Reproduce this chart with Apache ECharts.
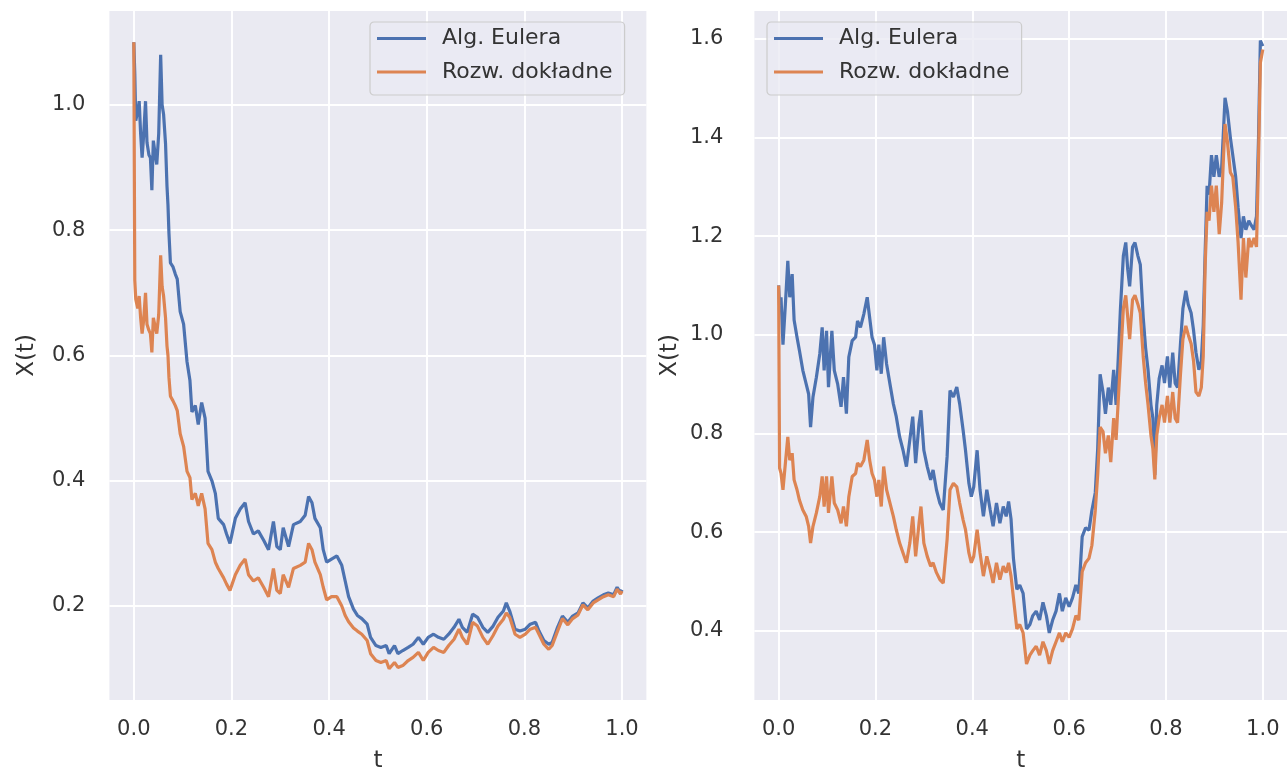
<!DOCTYPE html>
<html>
<head>
<meta charset="utf-8">
<script src="https://cdn.jsdelivr.net/npm/echarts@6/dist/echarts.min.js"></script>
<style>
html,body{margin:0;padding:0;background:#fff;}
#chart{width:1287px;height:778px;}
</style>
</head>
<body>
<div id="chart"></div>
<script>
const seriesNames = ['Alg. Eulera', 'Rozw. dokładne'];
const xTicks = [0, 0.2, 0.4, 0.6, 0.8, 1.0];
const yTicksLeft = [0.2, 0.4, 0.6, 0.8, 1.0];
const yTicksRight = [0.4, 0.6, 0.8, 1.0, 1.2, 1.4, 1.6];

const tLeft = [
  0.000, 0.002, 0.004, 0.008, 0.011, 0.014, 0.017, 0.020, 0.024, 0.027,
  0.031, 0.034, 0.037, 0.040, 0.044, 0.047, 0.051, 0.055, 0.058, 0.061,
  0.065, 0.068, 0.070, 0.072, 0.075, 0.080, 0.085, 0.089, 0.095, 0.102,
  0.109, 0.115, 0.119, 0.126, 0.132, 0.139, 0.146, 0.152, 0.160, 0.167,
  0.173, 0.184, 0.190, 0.197, 0.208, 0.218, 0.228, 0.235, 0.245, 0.255,
  0.266, 0.276, 0.286, 0.293, 0.300, 0.306, 0.317, 0.327, 0.341, 0.351,
  0.358, 0.365, 0.371, 0.382, 0.388, 0.395, 0.405, 0.416, 0.426, 0.433,
  0.440, 0.450, 0.458, 0.467, 0.478, 0.485, 0.496, 0.506, 0.517, 0.523,
  0.534, 0.541, 0.551, 0.562, 0.572, 0.583, 0.593, 0.603, 0.614, 0.624,
  0.635, 0.645, 0.656, 0.666, 0.673, 0.683, 0.694, 0.704, 0.715, 0.725,
  0.736, 0.746, 0.757, 0.763, 0.770, 0.781, 0.791, 0.802, 0.812, 0.823,
  0.830, 0.840, 0.850, 0.857, 0.868, 0.878, 0.889, 0.899, 0.910, 0.920,
  0.930, 0.941, 0.951, 0.962, 0.972, 0.983, 0.990, 0.997, 1.000
];
const eulerLeft = [
  1.10, 1.05, 0.975, 0.99, 1.006, 0.954, 0.916, 0.95, 1.006, 0.94,
  0.92, 0.916, 0.864, 0.943, 0.92, 0.905, 0.954, 1.08, 1.0, 0.985,
  0.938, 0.87, 0.84, 0.795, 0.748, 0.742, 0.73, 0.722, 0.67, 0.65,
  0.59, 0.56, 0.51, 0.52, 0.49, 0.525, 0.50, 0.415, 0.40, 0.38,
  0.34, 0.33, 0.315, 0.30, 0.34, 0.355, 0.365, 0.335, 0.315, 0.32,
  0.305, 0.29, 0.335, 0.295, 0.29, 0.325, 0.295, 0.33, 0.335, 0.345,
  0.375, 0.365, 0.34, 0.325, 0.29, 0.27, 0.275, 0.28, 0.265, 0.24,
  0.215, 0.195, 0.185, 0.18, 0.171, 0.15, 0.137, 0.134, 0.137, 0.124,
  0.137, 0.124, 0.129, 0.134, 0.139, 0.15, 0.139, 0.15, 0.155, 0.15,
  0.147, 0.155, 0.166, 0.179, 0.166, 0.158, 0.187, 0.182, 0.166, 0.158,
  0.168, 0.182, 0.192, 0.205, 0.192, 0.163, 0.16, 0.163, 0.171, 0.174,
  0.16, 0.145, 0.139, 0.142, 0.166, 0.184, 0.174, 0.184, 0.189, 0.205,
  0.197, 0.208, 0.213, 0.218, 0.221, 0.218, 0.23, 0.221, 0.226
];
const exactLeft = [
  1.10, 0.72, 0.69, 0.675, 0.695, 0.66, 0.635, 0.655, 0.70, 0.65,
  0.64, 0.635, 0.605, 0.66, 0.645, 0.635, 0.665, 0.76, 0.71, 0.695,
  0.66, 0.615, 0.60, 0.565, 0.535, 0.528, 0.52, 0.512, 0.475, 0.455,
  0.415, 0.405, 0.37, 0.38, 0.36, 0.38, 0.355, 0.30, 0.29, 0.27,
  0.26, 0.245, 0.235, 0.225, 0.25, 0.265, 0.275, 0.25, 0.24, 0.245,
  0.23, 0.215, 0.26, 0.225, 0.22, 0.25, 0.23, 0.26, 0.265, 0.27,
  0.30, 0.29, 0.27, 0.25, 0.23, 0.21, 0.215, 0.215, 0.20, 0.185,
  0.175, 0.165, 0.16, 0.155, 0.145, 0.124, 0.113, 0.11, 0.113, 0.10,
  0.11, 0.102, 0.105, 0.113, 0.118, 0.126, 0.113, 0.126, 0.134, 0.129,
  0.126, 0.137, 0.147, 0.163, 0.15, 0.139, 0.174, 0.168, 0.15, 0.139,
  0.153, 0.168, 0.179, 0.189, 0.182, 0.155, 0.15, 0.155, 0.163, 0.166,
  0.155, 0.139, 0.131, 0.137, 0.16, 0.18, 0.17, 0.18, 0.186, 0.202,
  0.194, 0.205, 0.21, 0.215, 0.218, 0.215, 0.227, 0.219, 0.224
];

const tRight = [
  0.000, 0.002, 0.005, 0.009, 0.014, 0.019, 0.023, 0.028, 0.032, 0.038,
  0.043, 0.050, 0.057, 0.062, 0.066, 0.071, 0.078, 0.085, 0.090, 0.094,
  0.099, 0.103, 0.110, 0.115, 0.122, 0.129, 0.134, 0.140, 0.145, 0.152,
  0.159, 0.163, 0.169, 0.176, 0.183, 0.188, 0.193, 0.198, 0.203, 0.207,
  0.212, 0.217, 0.223, 0.230, 0.237, 0.243, 0.250, 0.257, 0.264, 0.271,
  0.277, 0.283, 0.290, 0.294, 0.300, 0.307, 0.314, 0.319, 0.326, 0.333,
  0.340, 0.348, 0.354, 0.361, 0.368, 0.374, 0.381, 0.386, 0.393, 0.398,
  0.403, 0.410, 0.416, 0.423, 0.430, 0.437, 0.443, 0.450, 0.457, 0.464,
  0.470, 0.475, 0.480, 0.485, 0.492, 0.498, 0.505, 0.512, 0.519, 0.525,
  0.532, 0.539, 0.546, 0.553, 0.559, 0.566, 0.573, 0.580, 0.586, 0.593,
  0.600, 0.607, 0.614, 0.620, 0.627, 0.634, 0.641, 0.647, 0.654, 0.659,
  0.664, 0.670, 0.675, 0.681, 0.686, 0.692, 0.697, 0.702, 0.706, 0.712,
  0.717, 0.721, 0.725, 0.731, 0.736, 0.742, 0.747, 0.753, 0.758, 0.763,
  0.769, 0.773, 0.777, 0.781, 0.786, 0.792, 0.797, 0.803, 0.808, 0.814,
  0.819, 0.824, 0.830, 0.835, 0.841, 0.846, 0.852, 0.857, 0.862, 0.868,
  0.873, 0.877, 0.881, 0.885, 0.889, 0.894, 0.899, 0.904, 0.910, 0.915,
  0.919, 0.922, 0.927, 0.933, 0.938, 0.944, 0.949, 0.955, 0.960, 0.965,
  0.971, 0.976, 0.982, 0.987, 0.991, 0.995, 1.000
];
const eulerRight = [
  1.10, 1.06, 1.076, 0.98, 1.062, 1.15, 1.076, 1.123, 1.03, 0.995,
  0.968, 0.928, 0.90, 0.88, 0.813, 0.874, 0.914, 0.961, 1.015, 0.928,
  1.008, 0.894, 1.008, 0.928, 0.90, 0.854, 0.914, 0.84, 0.955, 0.988,
  0.995, 1.028, 1.015, 1.042, 1.076, 1.035, 0.995, 0.98, 0.928, 0.98,
  0.921, 0.995, 0.941, 0.90, 0.86, 0.834, 0.793, 0.766, 0.733, 0.787,
  0.834, 0.74, 0.82, 0.847, 0.766, 0.733, 0.706, 0.726, 0.686, 0.659,
  0.645, 0.753, 0.887, 0.874, 0.894, 0.86, 0.807, 0.766, 0.699, 0.672,
  0.692, 0.766, 0.686, 0.632, 0.686, 0.645, 0.612, 0.659, 0.618, 0.652,
  0.632, 0.662, 0.627, 0.547, 0.484, 0.493, 0.476, 0.404, 0.413, 0.431,
  0.44, 0.422, 0.458, 0.431, 0.396, 0.422, 0.44, 0.476, 0.44, 0.467,
  0.449, 0.467, 0.493, 0.476, 0.591, 0.609, 0.604, 0.644, 0.68, 0.769,
  0.92, 0.884, 0.84, 0.893, 0.858, 0.929, 0.858, 0.964, 1.053, 1.16,
  1.187, 1.133, 1.098, 1.178, 1.187, 1.16, 1.142, 1.036, 0.973, 0.929,
  0.858, 0.831, 0.716, 0.858, 0.911, 0.938, 0.902, 0.956, 0.893, 0.964,
  0.902, 0.893, 0.982, 1.053, 1.089, 1.062, 1.044, 1.009, 0.964, 0.929,
  0.947, 1.018, 1.169, 1.302, 1.284, 1.364, 1.32, 1.364, 1.32, 1.338,
  1.418, 1.48, 1.453, 1.40, 1.364, 1.32, 1.258, 1.196, 1.24, 1.213,
  1.231, 1.222, 1.213, 1.24, 1.391, 1.596, 1.585
];
const exactRight = [
  1.10, 0.73, 0.719, 0.686, 0.74, 0.793, 0.746, 0.76, 0.706, 0.686,
  0.665, 0.645, 0.632, 0.612, 0.578, 0.612, 0.639, 0.672, 0.713, 0.652,
  0.713, 0.639, 0.713, 0.659, 0.645, 0.618, 0.652, 0.612, 0.672, 0.713,
  0.719, 0.74, 0.733, 0.746, 0.787, 0.746, 0.719, 0.706, 0.672, 0.706,
  0.652, 0.733, 0.686, 0.659, 0.632, 0.605, 0.578, 0.558, 0.538, 0.578,
  0.632, 0.551, 0.618, 0.652, 0.578, 0.551, 0.531, 0.538, 0.518, 0.504,
  0.497, 0.585, 0.686, 0.699, 0.692, 0.659, 0.625, 0.605, 0.558, 0.538,
  0.551, 0.605, 0.558, 0.511, 0.551, 0.524, 0.497, 0.538, 0.504, 0.531,
  0.518, 0.538, 0.511, 0.467, 0.404, 0.413, 0.396, 0.333, 0.351, 0.36,
  0.369, 0.351, 0.378, 0.36, 0.333, 0.36, 0.378, 0.396, 0.378, 0.396,
  0.387, 0.404, 0.431, 0.422, 0.52, 0.538, 0.547, 0.573, 0.644, 0.716,
  0.813, 0.804, 0.76, 0.796, 0.742, 0.831, 0.787, 0.876, 0.947, 1.053,
  1.08, 1.036, 0.991, 1.071, 1.08, 1.062, 1.044, 0.956, 0.902, 0.858,
  0.796, 0.769, 0.707, 0.796, 0.831, 0.858, 0.822, 0.876, 0.822, 0.884,
  0.831, 0.822, 0.92, 0.991, 1.018, 1.0, 0.982, 0.947, 0.884, 0.876,
  0.893, 0.956, 1.142, 1.249, 1.231, 1.302, 1.249, 1.302, 1.204, 1.267,
  1.364, 1.427, 1.391, 1.329, 1.32, 1.258, 1.187, 1.071, 1.196, 1.116,
  1.196, 1.178, 1.196, 1.178, 1.347, 1.551, 1.578
];

const BLUE = '#4C72B0', ORANGE = '#DD8452';
const FONT = 'DejaVu Sans';
const TXT = '#333333';

function pairs(t, v) { return t.map((x, i) => [x, v[i]]); }

function xAxisCfg(gi) {
  return {
    type: 'value', gridIndex: gi, min: -0.05, max: 1.05,
    axisLine: { show: false },
    axisTick: { show: false, customValues: xTicks },
    axisLabel: { customValues: xTicks, formatter: v => v.toFixed(1), fontSize: 21, color: TXT, fontFamily: FONT, margin: 19 },
    splitLine: { show: true, lineStyle: { color: '#ffffff', width: 1.9 } },
    name: 't', nameLocation: 'middle', nameGap: 50,
    nameTextStyle: { fontSize: 23, color: TXT, fontFamily: FONT }
  };
}
function yAxisCfg(gi, min, max, ticks, margin, gap) {
  return {
    type: 'value', gridIndex: gi, min: min, max: max,
    axisLine: { show: false },
    axisTick: { show: false, customValues: ticks },
    axisLabel: { customValues: ticks, formatter: v => v.toFixed(1), fontSize: 21, color: TXT, fontFamily: FONT, margin: margin },
    splitLine: { show: true, lineStyle: { color: '#ffffff', width: 1.9 } },
    name: 'X(t)', nameLocation: 'middle', nameGap: gap,
    nameTextStyle: { fontSize: 23, color: TXT, fontFamily: FONT }
  };
}
function legendCfg(left) {
  return {
    left: left, top: 22, orient: 'vertical',
    data: seriesNames, icon: 'rect', itemWidth: 49, itemHeight: 3, itemGap: 9.5,
    padding: [4.5, 12, 11, 7],
    backgroundColor: 'rgba(234,234,242,0.8)', borderColor: '#cccccc', borderWidth: 1.2, borderRadius: 4,
    textStyle: { fontSize: 22, color: TXT, fontFamily: FONT, lineHeight: 24, padding: [0, 0, 0, 11] },
    selectedMode: false
  };
}

const chart = echarts.init(document.getElementById('chart'), null, { renderer: 'canvas' });
chart.setOption({
  animation: false,
  backgroundColor: '#ffffff',
  grid: [
    { left: 109.4, top: 11, width: 537, height: 693, show: true, backgroundColor: '#EAEAF2', borderWidth: 0 },
    { left: 754.4, top: 11, width: 537, height: 693, show: true, backgroundColor: '#EAEAF2', borderWidth: 0 }
  ],
  legend: [legendCfg(370), legendCfg(767)],
  xAxis: [xAxisCfg(0), xAxisCfg(1)],
  yAxis: [
    yAxisCfg(0, 0.05, 1.15, yTicksLeft, 24, 71),
    yAxisCfg(1, 0.26, 1.656, yTicksRight, 31, 73)
  ],
  series: [
    { name: seriesNames[0], type: 'line', xAxisIndex: 0, yAxisIndex: 0, data: pairs(tLeft, eulerLeft), symbol: 'none', color: BLUE, lineStyle: { width: 3.2, color: BLUE } },
    { name: seriesNames[1], type: 'line', xAxisIndex: 0, yAxisIndex: 0, data: pairs(tLeft, exactLeft), symbol: 'none', color: ORANGE, lineStyle: { width: 3.2, color: ORANGE } },
    { name: seriesNames[0], type: 'line', xAxisIndex: 1, yAxisIndex: 1, data: pairs(tRight, eulerRight), symbol: 'none', color: BLUE, lineStyle: { width: 3.2, color: BLUE } },
    { name: seriesNames[1], type: 'line', xAxisIndex: 1, yAxisIndex: 1, data: pairs(tRight, exactRight), symbol: 'none', color: ORANGE, lineStyle: { width: 3.2, color: ORANGE } }
  ]
});
</script>
</body>
</html>
